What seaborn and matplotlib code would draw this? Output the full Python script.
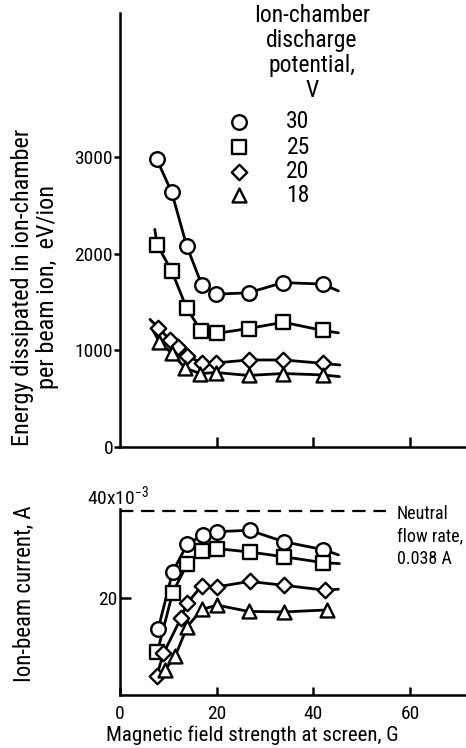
import matplotlib
matplotlib.use("Agg")
import matplotlib.pyplot as plt
import seaborn as sns
import pandas as pd

# ---------------- data ----------------
series_labels = ["30", "25", "20", "18"]          # discharge potential, V
series_markers = ["o", "s", "D", "^"]

# top panel: energy dissipated per beam ion, eV/ion
top_field = {
    "30": [7.6, 10.7, 13.8, 16.9, 19.9, 26.6, 33.7, 42.0],
    "25": [7.7, 10.7, 13.8, 16.8, 20.0, 26.6, 33.8, 42.0],
    "20": [7.9, 10.4, 12.1, 13.9, 16.9, 19.9, 26.6, 33.8, 42.0],
    "18": [8.1, 10.7, 13.5, 16.6, 19.9, 26.6, 33.8, 42.0],
}
top_energy = {
    "30": [2975, 2635, 2080, 1680, 1580, 1595, 1700, 1685],
    "25": [2090, 1820, 1435, 1200, 1175, 1225, 1290, 1205],
    "20": [1235, 1105, 1030, 940, 870, 870, 900, 900, 865],
    "18": [1090, 970, 815, 760, 770, 740, 760, 745],
}
# faired-curve end points beyond the data (field, value)
top_curve_start = {"30": None, "25": (7.2, 2250), "20": (6.2, 1320), "18": (6.6, 1230)}
top_curve_end = {"30": (45.2, 1613), "25": (45.2, 1180), "20": (45.5, 848), "18": (45.4, 728)}

# bottom panel: ion-beam current, A
bot_field = {
    "30": [7.9, 10.9, 13.9, 17.1, 20.0, 26.8, 34.0, 42.0],
    "25": [7.7, 10.9, 13.9, 16.9, 20.1, 26.8, 34.0, 42.0],
    "20": [7.6, 9.0, 12.6, 13.9, 16.9, 20.1, 26.8, 34.0, 42.4],
    "18": [9.3, 11.4, 13.9, 16.9, 20.1, 26.6, 34.0, 42.8],
}
bot_current = {
    "30": [0.0137, 0.0255, 0.0312, 0.0331, 0.0338, 0.0341, 0.0317, 0.0301],
    "25": [0.0088, 0.0212, 0.0271, 0.0298, 0.0303, 0.0296, 0.0286, 0.0274],
    "20": [0.0040, 0.0086, 0.0159, 0.0190, 0.0226, 0.0224, 0.0235, 0.0227, 0.0217],
    "18": [0.0052, 0.0080, 0.0141, 0.0177, 0.0186, 0.0173, 0.0172, 0.0176],
}
bot_curve_end = {"30": (45.2, 0.0290), "25": (45.4, 0.0272), "20": (45.2, 0.0219), "18": None}

neutral_flow = 0.038   # A

top_yticks = [0, 1000, 2000, 3000]
x_ticks = [0, 20, 40, 60]

# ---------------- styling ----------------
sns.set_theme(style="white")
FONT = ["Roboto Condensed", "DejaVu Sans"]
plt.rcParams["font.family"] = FONT
plt.rcParams["font.weight"] = "normal"
plt.rcParams["mathtext.fontset"] = "custom"
plt.rcParams["mathtext.rm"] = "Roboto Condensed"
plt.rcParams["mathtext.default"] = "regular"
for k in ("text.color", "axes.labelcolor", "xtick.color", "ytick.color"):
    plt.rcParams[k] = "black"
FS_TICK = 14
FS_XLAB = 15
FS_YLAB = 17.5
FS_LEG = 17
FS_NOTE = 13
LW = 2.0
SPINE = 1.8
sizes = {"30": 110, "25": 100, "20": 62, "18": 100}

W, H = 466, 748
fig = plt.figure(figsize=(W / 100, H / 100), dpi=100)
fig.patch.set_facecolor("white")

def box(l, t, r, b):
    return [l / W, 1 - b / H, (r - l) / W, (b - t) / H]

ax_t = fig.add_axes(box(120, 13, 466, 447))
ax_b = fig.add_axes(box(120, 509, 466, 695))


def build(fields, values, start, end):
    pts, crv = [], []
    for lab in series_labels:
        xs, ys = fields[lab], values[lab]
        for x, y in zip(xs, ys):
            pts.append({"series": lab, "field": x, "value": y})
        cx, cy = list(xs), list(ys)
        if start and start.get(lab):
            cx.insert(0, start[lab][0]); cy.insert(0, start[lab][1])
        if end and end.get(lab):
            cx.append(end[lab][0]); cy.append(end[lab][1])
        for x, y in zip(cx, cy):
            crv.append({"series": lab, "field": x, "value": y})
    return pd.DataFrame(pts), pd.DataFrame(crv)


def draw(ax, pts, crv):
    for lab in series_labels:
        sub = crv[crv.series == lab]
        sns.lineplot(data=sub, x="field", y="value", ax=ax, color="black",
                     lw=LW, sort=False, estimator=None, zorder=2, legend=False)
    for lab, mk in zip(series_labels, series_markers):
        sub = pts[pts.series == lab]
        sns.scatterplot(data=sub, x="field", y="value", ax=ax, marker=mk,
                        s=sizes[lab], color="white", edgecolor="black",
                        linewidth=1.7, zorder=3, legend=False, clip_on=False)


pts_t, crv_t = build(top_field, top_energy, top_curve_start, top_curve_end)
pts_b, crv_b = build(bot_field, bot_current, None, bot_curve_end)
draw(ax_t, pts_t, crv_t)
draw(ax_b, pts_b, crv_b)

for ax in (ax_t, ax_b):
    ax.set_xlim(0, 71.6)
    for s in ("top", "right"):
        ax.spines[s].set_visible(False)
    for s in ("left", "bottom"):
        ax.spines[s].set_linewidth(SPINE)
        ax.spines[s].set_color("black")
    ax.set_xlabel("")
    ax.set_ylabel("")
    ax.set_facecolor("white")

# top axes
ax_t.set_ylim(0, 4488)
ax_t.set_yticks(top_yticks)
ax_t.set_yticklabels([str(v) for v in top_yticks])
ax_t.set_xticks(x_ticks[1:])
ax_t.tick_params(axis="y", direction="out", length=4.5, width=SPINE,
                 labelsize=FS_TICK, pad=0.5, colors="black", left=True)
ax_t.tick_params(axis="x", direction="in", length=7, width=SPINE,
                 labelbottom=False, bottom=True)

# bottom axes
ax_b.set_ylim(0, 0.0385)
ax_b.set_yticks([0.020])
ax_b.set_yticklabels(["20"])
ax_b.set_xticks(x_ticks)
ax_b.set_xticklabels([str(v) for v in x_ticks])
ax_b.tick_params(axis="y", direction="in", length=8, width=SPINE,
                 labelsize=FS_TICK, pad=2, colors="black", left=True)
ax_b.tick_params(axis="x", direction="in", length=6, width=SPINE,
                 labelsize=FS_TICK, pad=7, colors="black", bottom=True)
ax_b.text(-0.5, 0.0386, "40x10$^{-3}$", ha="center", va="bottom", fontsize=FS_TICK,
          clip_on=False)

# neutral flow rate dashed line
sns.lineplot(x=[0, 55], y=[neutral_flow, neutral_flow], ax=ax_b, color="black",
             lw=1.6, linestyle=(0, (6, 3.5)), zorder=1)
ax_b.text(57.3, neutral_flow + 0.0013, "Neutral\nflow rate,\n0.038 A", ha="left",
          va="top", fontsize=FS_NOTE, linespacing=1.3, clip_on=False,
          transform=ax_b.transData)

# axis labels
ax_t.set_ylabel("Energy dissipated in ion-chamber\nper beam ion,  eV/ion",
                fontsize=FS_YLAB, va="center", multialignment="center", linespacing=1.1)
ax_t.yaxis.set_label_coords((35 - 120) / 346, (447 - 287) / 434)
ax_b.set_ylabel("Ion-beam current, A", fontsize=16.5, va="center")
ax_b.yaxis.set_label_coords((24 - 120) / 346, (695 - 594) / 186)
ax_b.set_xlabel("Magnetic field strength at screen, G", fontsize=FS_XLAB, va="center")
ax_b.xaxis.set_label_coords((252 - 120) / 346, (695 - 735) / 186)

# legend (drawn manually)
def afx(px):
    return (px - 120) / 346

def afy(py):
    return (447 - py) / 434

ax_t.text(afx(312), afy(53), "Ion-chamber\ndischarge\npotential,\nV",
          transform=ax_t.transAxes, ha="center", va="center",
          multialignment="center", fontsize=FS_LEG, linespacing=1.1)
for lab, mk, py in zip(series_labels, series_markers, [122, 147, 172, 195]):
    ax_t.scatter([afx(239)], [afy(py)], marker=mk, s=sizes[lab], color="white",
                 edgecolor="black", linewidth=1.7, transform=ax_t.transAxes,
                 clip_on=False, zorder=3)
    ax_t.text(afx(298), afy(py), lab, transform=ax_t.transAxes, ha="center",
              va="center", fontsize=FS_LEG)

fig.savefig("out.png", dpi=100, facecolor="white")
